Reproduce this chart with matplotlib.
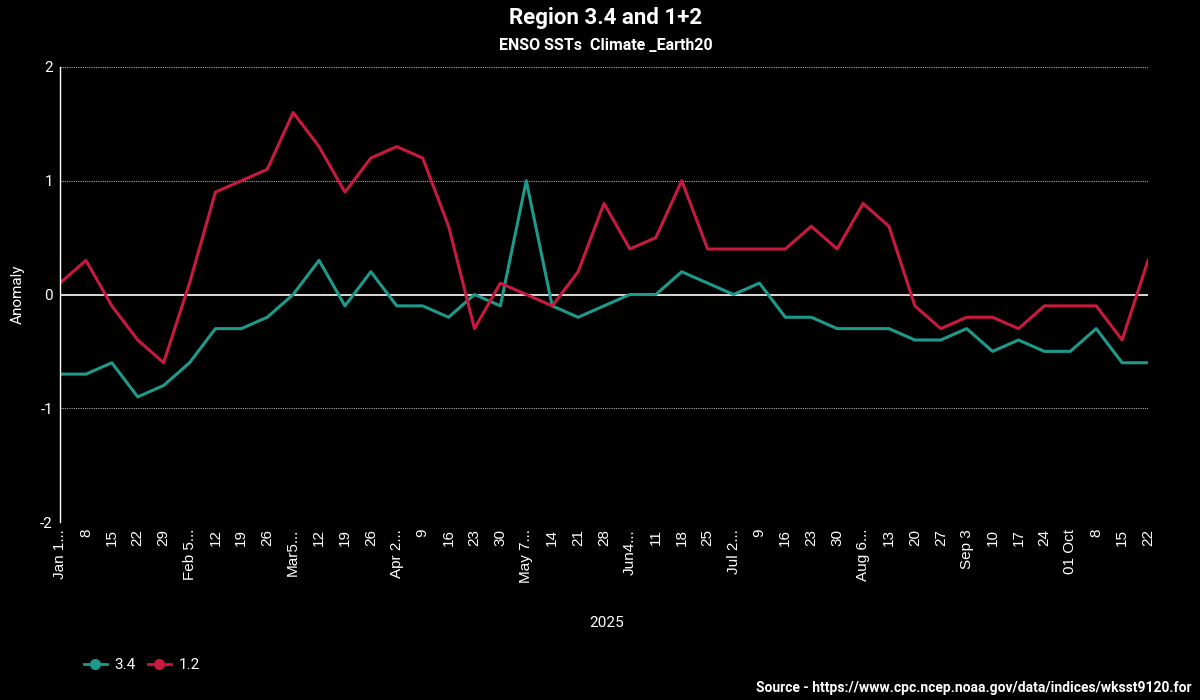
import numpy as np
import matplotlib.pyplot as plt

plt.rcParams['font.family'] = ['Roboto', 'DejaVu Sans']

weeks = ["Jan 1...", "8", "15", "22", "29", "Feb 5...", "12", "19", "26",
         "Mar5...", "12", "19", "26", "Apr 2...", "9", "16", "23", "30",
         "May 7...", "14", "21", "28", "Jun4...", "11", "18", "25",
         "Jul 2...", "9", "16", "23", "30", "Aug 6...", "13", "20", "27",
         "Sep 3", "10", "17", "24", "01 Oct", "8", "15", "22"]

nino34 = [-0.7, -0.7, -0.6, -0.9, -0.8, -0.6, -0.3, -0.3, -0.2,
          0.0, 0.3, -0.1, 0.2, -0.1, -0.1, -0.2, 0.0, -0.1,
          1.0, -0.1, -0.2, -0.1, 0.0, 0.0, 0.2, 0.1,
          0.0, 0.1, -0.2, -0.2, -0.3, -0.3, -0.3, -0.4, -0.4,
          -0.3, -0.5, -0.4, -0.5, -0.5, -0.3, -0.6, -0.6]

nino12 = [0.1, 0.3, -0.1, -0.4, -0.6, 0.1, 0.9, 1.0, 1.1,
          1.6, 1.3, 0.9, 1.2, 1.3, 1.2, 0.6, -0.3, 0.1,
          0.0, -0.1, 0.2, 0.8, 0.4, 0.5, 1.0, 0.4,
          0.4, 0.4, 0.4, 0.6, 0.4, 0.8, 0.6, -0.1, -0.3,
          -0.2, -0.2, -0.3, -0.1, -0.1, -0.1, -0.4, 0.3]

teal = '#1c9a8c'
red = '#c8193f'

x = np.arange(len(weeks))

fig = plt.figure(figsize=(12, 7), dpi=100, facecolor='black')
ax = fig.add_axes([60/1200, 1 - 522/700, 1088/1200, 455/700])
ax.set_facecolor('black')

ax.plot(x, nino34, color=teal, lw=2.2, label='3.4')
ax.plot(x, nino12, color=red, lw=2.2, label='1.2')

ax.set_xlim(0, len(weeks) - 1)
ax.set_ylim(-2, 2)
ax.set_yticks([-2, -1, 0, 1, 2])
ax.set_yticklabels(['-2', '-1', '0', '1', '2'], color='white', fontsize=11)
for v in [-2, -1, 1, 2]:
    ax.axhline(v, color='#aaaaaa', lw=0.8, ls=(0, (1, 1)), zorder=0)
ax.axhline(0, color='white', lw=1.2, zorder=1)

ax.set_xticks(x)
ax.set_xticklabels(weeks, rotation=90, color='white', fontsize=11,
                   family=['Liberation Sans', 'DejaVu Sans'])
ax.tick_params(axis='both', length=0, pad=5)

for side in ['top', 'right', 'bottom']:
    ax.spines[side].set_visible(False)
ax.spines['left'].set_color('white')
ax.spines['left'].set_linewidth(1)

ax.set_ylabel('Anomaly', color='white', fontsize=11)
ax.yaxis.set_label_coords(-0.032, 0.5)

fig.text(0.505, 1 - 18/700, 'Region 3.4 and 1+2', color='white',
         fontsize=16, fontweight='bold', ha='center', va='center')
fig.text(0.505, 1 - 46/700, 'ENSO SSTs  Climate _Earth20', color='white',
         fontsize=11.5, fontweight='bold', ha='center', va='center')
fig.text(607/1200, 1 - 623/700, '2025', color='white', fontsize=11,
         ha='center', va='center')
fig.text(1192/1200, 1 - 688/700,
         'Source - https://www.cpc.ncep.noaa.gov/data/indices/wksst9120.for',
         color='white', fontsize=10, fontweight='bold', ha='right', va='center')

h1, = ax.plot([], [], color=teal, lw=2, marker='o', markersize=7)
h2, = ax.plot([], [], color=red, lw=2, marker='o', markersize=7)
leg = fig.legend([h1, h2], ['3.4', '1.2'], loc='center left',
                 bbox_to_anchor=(70/1200, 1 - 665/700), ncol=2, frameon=False,
                 handlelength=1.5, handletextpad=0.5, columnspacing=0.8,
                 fontsize=11)
for t in leg.get_texts():
    t.set_color('white')

fig.savefig('out.png', facecolor='black')
